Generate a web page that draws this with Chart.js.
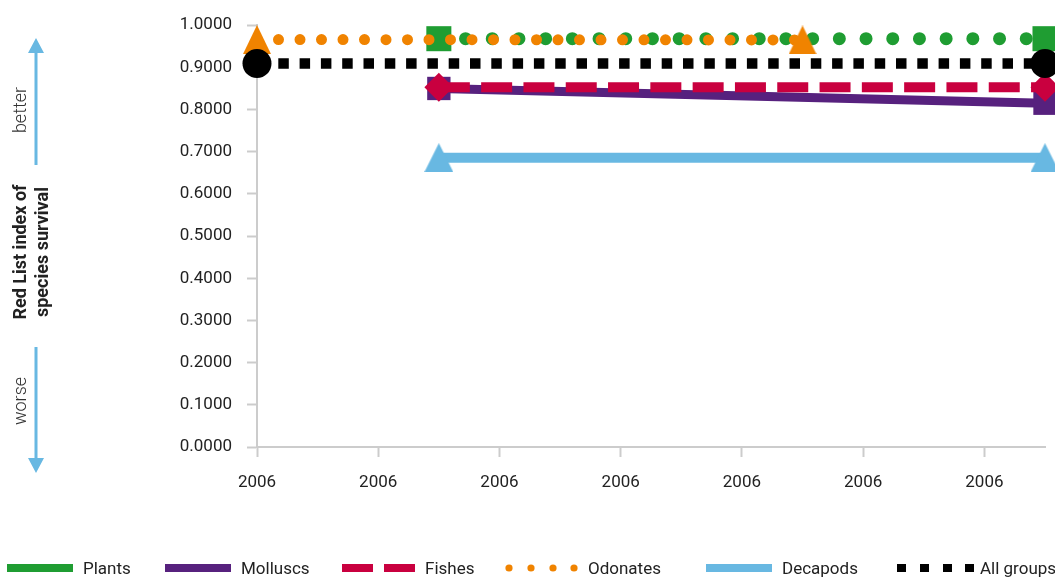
<!DOCTYPE html>
<html>
<head>
<meta charset="utf-8">
<title>Red List index of species survival</title>
<script src="https://cdn.jsdelivr.net/npm/chart.js@4.4.1/dist/chart.umd.min.js"></script>
<style>
  html, body { margin: 0; padding: 0; background: #fff; }
  #wrap { position: relative; width: 1055px; height: 579px; overflow: hidden; font-family: Roboto, "Liberation Sans", sans-serif; }
  #rliChart { position: absolute; left: 0; top: 0; }
  #legend { position: absolute; left: 0; top: 556px; width: 1055px; height: 24px; }
  .item { position: absolute; top: 0; height: 24px; line-height: 24px; font-size: 17px; color: #222; white-space: nowrap; }
  .item svg { position: absolute; top: 8px; }
</style>
</head>
<body>
<div id="wrap">
  <canvas id="rliChart" width="1055" height="579"></canvas>
  <div id="legend"></div>
</div>
<script>
// data
const xTickLabels = ['2006', '2006', '2006', '2006', '2006', '2006', '2006'];

const plantsX = [2006.15, 2006.65];
const plantsY = [0.968, 0.968];

const molluscsX = [2006.15, 2006.65];
const molluscsY = [0.850, 0.815];

const fishesX = [2006.15, 2006.65];
const fishesY = [0.853, 0.853];

const odonatesX = [2006.0, 2006.45];
const odonatesY = [0.966, 0.965];

const decapodsX = [2006.15, 2006.65];
const decapodsY = [0.686, 0.686];

const allGroupsX = [2006.0, 2006.65];
const allGroupsY = [0.909, 0.909];

const FONT = 'Roboto, "Liberation Sans", sans-serif';
const GREEN = '#1f9d32';
const PURPLE = '#57217e';
const RED = '#c9003f';
const ORANGE = '#f08300';
const BLUE = '#68b8e2';
const BLACK = '#000000';

function pts(xs, ys) {
    return xs.map((x, i) => ({ x: x, y: ys[i] }));
}

function triangle(color, w, h) {
    const c = document.createElement('canvas');
    c.width = w;
    c.height = h;
    const g = c.getContext('2d');
    g.fillStyle = color;
    g.beginPath();
    g.moveTo(w / 2, 0);
    g.lineTo(w, h);
    g.lineTo(0, h);
    g.closePath();
    g.fill();
    return c;
}

// y axis title, better / worse arrows
const sideNotes = {
    id: 'sideNotes',
    afterDraw(chart) {
        const ctx = chart.ctx;
        ctx.save();
        ctx.fillStyle = '#222';
        ctx.textAlign = 'center';
        ctx.textBaseline = 'middle';

        ctx.save();
        ctx.translate(21, 252);
        ctx.rotate(-Math.PI / 2);
        ctx.font = 'bold 18px ' + FONT;
        ctx.fillText('Red List index of', 0, 0);
        ctx.fillText('species survival', 0, 22);
        ctx.restore();

        ctx.font = '300 18px ' + FONT;
        ctx.fillStyle = '#333';
        [['better', 110], ['worse', 401]].forEach(function (t) {
            ctx.save();
            ctx.translate(21, t[1]);
            ctx.rotate(-Math.PI / 2);
            ctx.fillText(t[0], 0, 0);
            ctx.restore();
        });

        ctx.strokeStyle = BLUE;
        ctx.fillStyle = BLUE;
        ctx.lineWidth = 3;
        ctx.beginPath();
        ctx.moveTo(36, 165);
        ctx.lineTo(36, 50);
        ctx.moveTo(36, 347);
        ctx.lineTo(36, 460);
        ctx.stroke();
        ctx.beginPath();
        ctx.moveTo(36, 38);
        ctx.lineTo(44, 53);
        ctx.lineTo(28, 53);
        ctx.closePath();
        ctx.moveTo(36, 473);
        ctx.lineTo(44, 458);
        ctx.lineTo(28, 458);
        ctx.closePath();
        ctx.fill();
        ctx.restore();
    }
};

const ctx = document.getElementById('rliChart').getContext('2d');

const rliChart = new Chart(ctx, {
    type: 'line',
    data: {
        datasets: [
            {
                label: 'Plants',
                data: pts(plantsX, plantsY),
                borderColor: GREEN,
                borderWidth: 13,
                borderDash: [0, 26.7],
                borderCapStyle: 'round',
                pointStyle: 'rect',
                pointRadius: 17.7,
                pointBackgroundColor: GREEN,
                pointBorderWidth: 0,
                order: 5
            },
            {
                label: 'Molluscs',
                data: pts(molluscsX, molluscsY),
                borderColor: PURPLE,
                borderWidth: 9,
                pointStyle: 'rect',
                pointRadius: 16.5,
                pointBackgroundColor: PURPLE,
                pointBorderWidth: 0,
                order: 4
            },
            {
                label: 'Fishes',
                data: pts(fishesX, fishesY),
                borderColor: RED,
                borderWidth: 10,
                borderDash: [31, 11.3],
                pointStyle: 'rectRot',
                pointRadius: 14.5,
                pointBackgroundColor: RED,
                pointBorderWidth: 0,
                order: 3
            },
            {
                label: 'Odonates',
                data: pts(odonatesX, odonatesY),
                borderColor: ORANGE,
                borderWidth: 11,
                borderDash: [0, 21.5],
                borderCapStyle: 'round',
                pointStyle: triangle(ORANGE, 28, 29),
                pointRadius: 14,
                pointBackgroundColor: ORANGE,
                pointBorderWidth: 0,
                order: 2
            },
            {
                label: 'Decapods',
                data: pts(decapodsX, decapodsY),
                borderColor: BLUE,
                borderWidth: 10,
                pointStyle: triangle(BLUE, 29, 29),
                pointRadius: 14,
                pointBackgroundColor: BLUE,
                pointBorderWidth: 0,
                order: 1
            },
            {
                label: 'All groups',
                data: pts(allGroupsX, allGroupsY),
                borderColor: BLACK,
                borderWidth: 10.5,
                borderDash: [10.5, 10.8],
                pointStyle: 'circle',
                pointRadius: 14.5,
                pointBackgroundColor: BLACK,
                pointBorderWidth: 0,
                order: 0
            }
        ]
    },
    options: {
        responsive: false,
        animation: false,
        clip: false,
        layout: {
            autoPadding: false,
            padding: { top: 23, right: 10, left: 0, bottom: 0 }
        },
        elements: {
            line: { tension: 0, fill: false }
        },
        plugins: {
            legend: { display: false },
            tooltip: { enabled: false }
        },
        scales: {
            x: {
                type: 'linear',
                min: 2006,
                max: 2006.65,
                bounds: 'data',
                ticks: {
                    stepSize: 0.1,
                    includeBounds: false,
                    autoSkip: false,
                    maxRotation: 0,
                    padding: 16,
                    color: '#222',
                    font: { size: 17, family: FONT },
                    callback: function (value, index) {
                        return xTickLabels[index];
                    }
                },
                grid: {
                    drawOnChartArea: false,
                    tickLength: 10,
                    tickColor: '#cccccc',
                    tickWidth: 2
                },
                border: { color: '#cccccc', width: 2 },
                afterFit: function (scale) {
                    scale.height = 579 - 447;
                    scale.paddingRight = 0;
                    scale.paddingLeft = 0;
                }
            },
            y: {
                min: 0,
                max: 1,
                ticks: {
                    stepSize: 0.1,
                    padding: 15,
                    color: '#222',
                    font: { size: 17, family: FONT },
                    callback: function (value) {
                        return value.toFixed(4);
                    }
                },
                grid: {
                    drawOnChartArea: false,
                    tickLength: 10,
                    tickColor: '#cccccc',
                    tickWidth: 2
                },
                border: { color: '#cccccc', width: 2 },
                afterFit: function (scale) {
                    scale.width = 257;
                }
            }
        }
    },
    plugins: [sideNotes]
});

// legend below the plot
const legendItems = [
    { name: 'Plants', color: GREEN, kind: 'solid', sx: 7, tx: 83 },
    { name: 'Molluscs', color: PURPLE, kind: 'solid', sx: 165, tx: 241 },
    { name: 'Fishes', color: RED, kind: 'dash', sx: 342, tx: 425 },
    { name: 'Odonates', color: ORANGE, kind: 'dot', sx: 505, tx: 588 },
    { name: 'Decapods', color: BLUE, kind: 'solid', sx: 706, tx: 782 },
    { name: 'All groups', color: BLACK, kind: 'square', sx: 897, tx: 980 }
];

const legendBox = document.getElementById('legend');
legendItems.forEach(function (it) {
    let shape = '';
    if (it.kind === 'solid') {
        shape = '<rect x="0" y="0" width="66" height="8" fill="' + it.color + '"/>';
    } else if (it.kind === 'dash') {
        shape = '<rect x="0" y="0" width="31" height="8" fill="' + it.color + '"/>' +
                '<rect x="42" y="0" width="31" height="8" fill="' + it.color + '"/>';
    } else if (it.kind === 'dot') {
        [4, 26, 48, 69].forEach(function (cx) {
            shape += '<circle cx="' + cx + '" cy="4" r="3.6" fill="' + it.color + '"/>';
        });
    } else {
        [0, 23, 46, 68].forEach(function (x) {
            shape += '<rect x="' + x + '" y="0" width="9" height="8" fill="' + it.color + '"/>';
        });
    }
    const sample = document.createElement('div');
    sample.className = 'item';
    sample.style.left = it.sx + 'px';
    sample.innerHTML = '<svg width="80" height="8">' + shape + '</svg>';
    legendBox.appendChild(sample);

    const label = document.createElement('div');
    label.className = 'item';
    label.style.left = it.tx + 'px';
    label.textContent = it.name;
    legendBox.appendChild(label);
});
</script>
</body>
</html>
